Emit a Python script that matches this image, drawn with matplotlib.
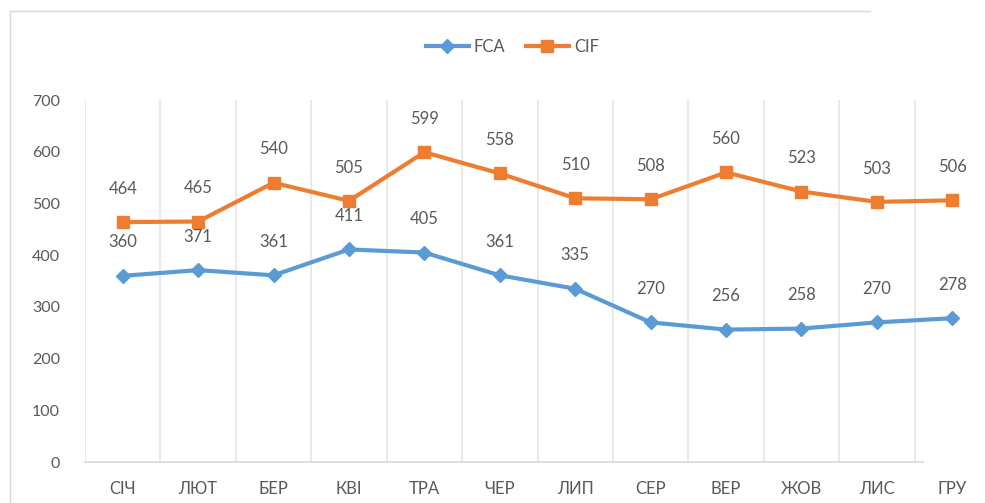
import matplotlib.pyplot as plt
from matplotlib.lines import Line2D

# monthly values (Ukrainian month abbreviations)
months = ["СІЧ", "ЛЮТ", "БЕР", "КВІ", "ТРА", "ЧЕР", "ЛИП", "СЕР", "ВЕР", "ЖОВ", "ЛИС", "ГРУ"]
fca = [360, 371, 361, 411, 405, 361, 335, 270, 256, 258, 270, 278]
cif = [464, 465, 540, 505, 599, 558, 510, 508, 560, 523, 503, 506]
yticks = [0, 100, 200, 300, 400, 500, 600, 700]

BLUE = "#5B9BD5"
ORANGE = "#ED7D31"
GREY_TXT = "#595959"

plt.rcParams["font.family"] = ["Lato", "DejaVu Sans"]

fig = plt.figure(figsize=(9.85, 5.03), dpi=100)
ax = fig.add_axes([85 / 985, 41 / 503, 905 / 985, 362 / 503])

x = list(range(len(months)))

# vertical gridlines between categories
for k in range(len(months) + 1):
    ax.axvline(k - 0.5, color="#E3E3E3", lw=1.1, zorder=0)

ax.plot(x, fca, color=BLUE, lw=3, marker="D", markersize=7, label="FCA", zorder=3)
ax.plot(x, cif, color=ORANGE, lw=3, marker="s", markersize=9, label="CIF", zorder=3)

for xi, v in zip(x, fca):
    ax.annotate(str(v), (xi, v), xytext=(0, 24), textcoords="offset points",
                ha="center", va="center", fontsize=12, color=GREY_TXT)
for xi, v in zip(x, cif):
    ax.annotate(str(v), (xi, v), xytext=(0, 24), textcoords="offset points",
                ha="center", va="center", fontsize=12, color=GREY_TXT)

ax.set_xlim(-0.5, len(months) - 0.5)
ax.set_ylim(0, 700)
ax.set_yticks(yticks)
ax.set_xticks(x)
ax.set_xticklabels(months)
ax.tick_params(axis="y", length=0, pad=18, labelsize=11.5, labelcolor=GREY_TXT)
ax.tick_params(axis="x", length=0, pad=14, labelsize=12, labelcolor=GREY_TXT)

for s in ["top", "right", "left", "bottom"]:
    ax.spines[s].set_visible(False)
# bottom axis line stops short of the right edge in the screenshot
ax.axhline(0, xmin=0, xmax=0.926, color="#D9D9D9", lw=1.2, zorder=1, clip_on=False)

fig.legend(loc="center", bbox_to_anchor=(0.52, 0.907), ncol=2, frameon=False,
           fontsize=12, labelcolor=GREY_TXT, handlelength=2.6, columnspacing=1.2,
           handletextpad=0.3)

# faint chart-area border from the screenshot
fig.add_artist(Line2D([10 / 985, 870 / 985], [1 - 11 / 503, 1 - 11 / 503],
                      color="#D9D9D9", lw=1))
fig.add_artist(Line2D([10 / 985, 10 / 985], [1 - 11 / 503, 0],
                      color="#D9D9D9", lw=1))

fig.savefig("out.png", dpi=100)
